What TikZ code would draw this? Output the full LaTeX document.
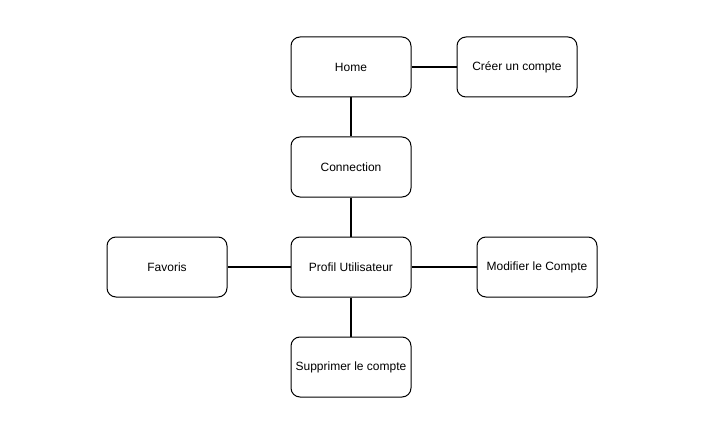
\documentclass[tikz,border=0pt]{standalone}
\usepackage{fontspec}
\setmainfont{Liberation Sans}
\usetikzlibrary{positioning}

\tikzset{
    page/.style={draw=black, line width=1pt, rounded corners=9pt,
        minimum width=120pt, minimum height=60pt, inner sep=0pt,
        font=\fontsize{12}{14}\selectfont},
    link/.style={line width=2pt}
}

\begin{document}
\begin{tikzpicture}[x=1pt, y=-1pt]
        \useasboundingbox (0,0) rectangle (707,433);

        \node[page] (home) at (351,67) {Home};
        \node[page, right=45pt of home] (creer) {Créer un compte};
        \node[page, below=39pt of home] (connection) {Connection};
        \node[page, below=39pt of connection] (profil) {Profil Utilisateur};
        \node[page, left=63pt of profil] (favoris) {Favoris};
        \node[page, right=65pt of profil] (modifier) {Modifier le Compte};
        \node[page, below=39pt of profil] (supprimer) {Supprimer le compte};

        \draw[link]
            (home) -- (creer)
            (home) -- (connection)
            (connection) -- (profil)
            (profil) -- (favoris)
            (profil) -- (modifier)
            (profil) -- (supprimer)
            ;
    \end{tikzpicture}
\end{document}
